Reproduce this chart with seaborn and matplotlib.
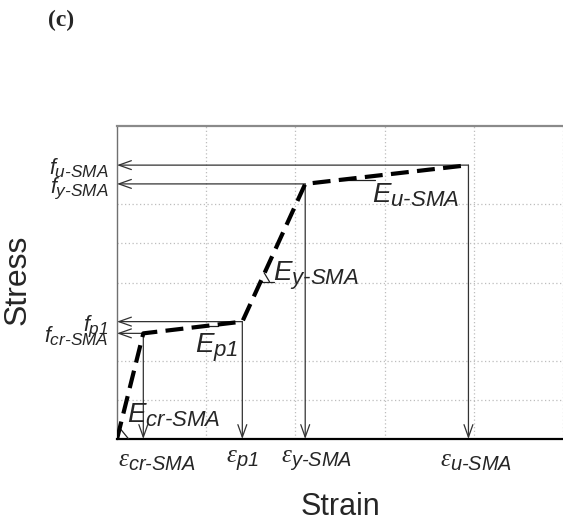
import numpy as np
import pandas as pd
import matplotlib
matplotlib.use("Agg")
import matplotlib.pyplot as plt
import matplotlib.transforms as mtransforms
import matplotlib._mathtext as mathtext_impl
import seaborn as sns

# Idealised multi-linear stress-strain response of an SMA (normalised units)
points = ["origin", "cr", "p1", "y", "u"]
strain = [0.0, 0.295, 1.405, 2.11, 3.94]
stress = [0.0, 2.70, 3.00, 6.52, 7.00]

HY = "\u2010"  # typographic hyphen inside subscripts
stress_labels = [rf"$f_{{cr{HY}SMA}}$", r"$f_{p1}$", rf"$f_{{y{HY}SMA}}$", rf"$f_{{u{HY}SMA}}$"]
strain_labels = [rf"$\mathcal{{ε}}_{{cr{HY}SMA}}$", r"$\mathcal{ε}_{p1}$",
                 rf"$\mathcal{{ε}}_{{y{HY}SMA}}$", rf"$\mathcal{{ε}}_{{u{HY}SMA}}$"]
modulus_labels = [rf"$E_{{cr{HY}SMA}}$", r"$E_{p1}$", rf"$E_{{y{HY}SMA}}$", rf"$E_{{u{HY}SMA}}$"]
modulus_x = [0.112, 0.874, 1.749, 2.859]
modulus_y = [0.41, 2.20, 4.04, 6.04]

df = pd.DataFrame({"point": points, "strain": strain, "stress": stress})

sns.set_style("white")
plt.rcParams["font.family"] = ["Liberation Sans", "DejaVu Sans"]
plt.rcParams["mathtext.fontset"] = "custom"
plt.rcParams["mathtext.it"] = "Liberation Sans:italic"
plt.rcParams["mathtext.rm"] = "Liberation Sans:italic"
plt.rcParams["mathtext.cal"] = "Liberation Serif:italic"
# larger subscripts than the mathtext default
mathtext_impl.SHRINK_FACTOR = 0.8

fig = plt.figure(figsize=(5.63, 5.29), dpi=100)
ax = fig.add_axes([117 / 563, 90 / 529, 473 / 563, 313 / 529])

# stress-strain envelope
sns.lineplot(data=df, x="strain", y="stress", sort=False, ax=ax, color="black",
             lw=3.0, linestyle=(0, (4.3, 2.0)), zorder=5)

ax.set_xlim(0, 473 / 89.2)
ax.set_ylim(0, 8)

# dotted background grid on integer steps
ax.set_xticks(np.arange(1, 6), minor=True)
ax.set_yticks(np.arange(1, 8), minor=True)
ax.grid(False)
ax.grid(which="minor", color="#bdbdbd", linestyle=(0, (1, 2)), lw=0.9)
ax.tick_params(which="minor", length=0)

# characteristic values on the axes
ax.set_yticks(stress[1:])
ax.set_yticklabels(stress_labels)
ax.set_xticks(strain[1:])
ax.set_xticklabels(strain_labels)
ax.tick_params(axis="y", which="major", length=0, pad=6, labelsize=15.5)
ax.tick_params(axis="x", which="major", length=0, pad=7, labelsize=18)
shifts = [14, 0, 11, 8]
for lab, dx in zip(ax.get_xticklabels(), shifts):
    lab.set_transform(lab.get_transform() +
                      mtransforms.ScaledTranslation(dx / 100, 0, fig.dpi_scale_trans))

# projection arrows from each key point to both axes
arrow = dict(arrowstyle="->,head_length=0.45,head_width=0.16", lw=0.9,
             color="#333333", shrinkA=0, shrinkB=0, mutation_scale=20)
for e, s in zip(strain[1:], stress[1:]):
    ax.annotate("", xy=(0, s), xytext=(e, s), arrowprops=arrow, zorder=3)
    ax.annotate("", xy=(e, 0), xytext=(e, s), arrowprops=arrow, zorder=3)

# slope markers for each modulus
for level, length in [(2.88, 0.17), (4.02, 0.15), (6.62, 0.40)]:
    x0 = np.interp(level, stress, strain)
    ax.plot([x0, x0 + length], [level, level], color="#222222", lw=0.9, zorder=4)
x_ey = np.interp(4.02, stress, strain)
ax.plot([x_ey + 0.04, x_ey + 0.10], [4.25, 4.02], color="#222222", lw=0.9, zorder=4)
x_cr = np.interp(0.28, stress, strain)
ax.plot([x_cr, x_cr + 0.10], [0.28, 0.0], color="#222222", lw=0.9, zorder=4)

for lbl, tx, ty in zip(modulus_labels, modulus_x, modulus_y):
    ax.text(tx, ty, lbl, fontsize=20, ha="left", va="baseline", zorder=6)

for side in ["top", "right", "left", "bottom"]:
    ax.spines[side].set_visible(True)
ax.spines["top"].set_color("#8a8a8a")
ax.spines["top"].set_linewidth(1.6)
ax.spines["left"].set_color("#707070")
ax.spines["left"].set_linewidth(1.0)
ax.spines["bottom"].set_color("black")
ax.spines["bottom"].set_linewidth(1.6)

ax.set_xlabel("Strain", fontsize=22)
ax.set_ylabel("Stress", fontsize=23)
ax.xaxis.set_label_coords(223 / 473, -53 / 313)
ax.yaxis.set_label_coords(-84 / 473, 159 / 313)

fig.text(48 / 563, 1 - 26 / 529, "(c)", fontsize=17, fontweight="bold",
         family="Liberation Serif", ha="left", va="baseline")

fig.savefig("out.png", dpi=100)
